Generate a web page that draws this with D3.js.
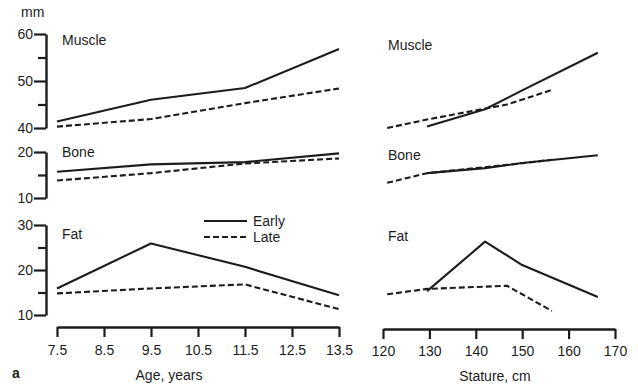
<!DOCTYPE html>
<html>
<head>
<meta charset="utf-8">
<script src="https://cdn.jsdelivr.net/npm/d3@7"></script>
<style>
  html, body { margin: 0; padding: 0; background: #fff; }
  svg { display: block; }
  text { font-family: "Liberation Sans", Arial, Helvetica, sans-serif; fill: #1c1c1c; }
</style>
</head>
<body>
<svg id="chart" width="638" height="386"></svg>
<script>
// Mean ages of the measured groups (years)
const ages = [7.5, 9.5, 11.5, 13.5];
// Mean statures of early and late maturers at those ages (cm)
const statureEarly = [129.5, 142.0, 150.0, 166.3];
const statureLate = [120.9, 129.5, 146.7, 156.4];

// Tissue widths (mm) by age
const muscleEarlyAge = [41.4, 46.0, 48.5, 56.8];
const muscleLateAge = [40.3, 41.9, 45.3, 48.4];
const boneEarlyAge = [15.7, 17.3, 17.8, 19.7];
const boneLateAge = [13.8, 15.4, 17.5, 18.6];
const fatEarlyAge = [15.9, 25.9, 20.7, 14.4];
const fatLateAge = [14.8, 15.9, 16.8, 11.3];

// Tissue widths (mm) by stature
const muscleEarlyStat = [40.3, 44.0, 48.0, 56.0];
const muscleLateStat = [40.0, 41.8, 45.0, 48.1];
const boneEarlyStat = [15.4, 16.5, 17.6, 19.3];
const boneLateStat = [13.3, 15.4, 17.2, 18.3];
const fatEarlyStat = [15.3, 26.3, 21.1, 14.0];
const fatLateStat = [14.6, 15.8, 16.5, 10.9];

// Axis ticks
const ageTicks = [7.5, 8.5, 9.5, 10.5, 11.5, 12.5, 13.5];
const statureTicks = [120, 130, 140, 150, 160, 170];
const panelNames = ["Muscle", "Bone", "Fat"];
const legendLabels = ["Early", "Late"];

const svg = d3.select("#chart");
const ink = "#1c1c1c";
const dash = "6,3";

const xAge = d3.scaleLinear().domain([7.5, 13.5]).range([57, 339]);
const xStat = d3.scaleLinear().domain([120, 170]).range([383, 615]);

const panels = [
  { name: panelNames[0], y: d3.scaleLinear().domain([40, 60]).range([128, 34]),
    major: [40, 50, 60], minor: [45, 55],
    ageE: muscleEarlyAge, ageL: muscleLateAge, statE: muscleEarlyStat, statL: muscleLateStat,
    labelY: 45, labelYR: 50 },
  { name: panelNames[1], y: d3.scaleLinear().domain([10, 20]).range([198, 152]),
    major: [10, 20], minor: [15],
    ageE: boneEarlyAge, ageL: boneLateAge, statE: boneEarlyStat, statL: boneLateStat,
    labelY: 157, labelYR: 160 },
  { name: panelNames[2], y: d3.scaleLinear().domain([10, 30]).range([315, 225]),
    major: [10, 20, 30], minor: [15, 25],
    ageE: fatEarlyAge, ageL: fatLateAge, statE: fatEarlyStat, statL: fatLateStat,
    labelY: 239, labelYR: 241 }
];

const axisX = 46;

function styleAxis(g) {
  g.selectAll("path.domain").attr("stroke", ink).attr("stroke-width", 2.4);
  g.selectAll(".tick line").attr("stroke", ink).attr("stroke-width", 2.2);
  g.selectAll(".tick text").attr("fill", ink).style("font-size", "14px")
    .style("font-family", "'Liberation Sans', Arial, sans-serif");
}

panels.forEach(p => {
  // major ticks with labels
  const gMaj = svg.append("g").attr("transform", `translate(${axisX},0)`)
    .call(d3.axisLeft(p.y).tickValues(p.major).tickSize(12).tickSizeOuter(0).tickPadding(1).tickFormat(d3.format("d")));
  styleAxis(gMaj);
  // minor ticks
  const gMin = svg.append("g").attr("transform", `translate(${axisX},0)`)
    .call(d3.axisLeft(p.y).tickValues(p.minor).tickSize(8).tickSizeOuter(0).tickFormat(""));
  styleAxis(gMin);
  gMin.select("path.domain").remove();

  // panel titles
  svg.append("text").attr("x", 62).attr("y", p.labelY).style("font-size", "14px").text(p.name);
  svg.append("text").attr("x", 388).attr("y", p.labelYR).style("font-size", "14px").text(p.name);

  const lineAgeE = d3.line().x((d, i) => xAge(ages[i])).y(d => p.y(d));
  const lineStatE = d3.line().x((d, i) => xStat(statureEarly[i])).y(d => p.y(d));
  const lineStatL = d3.line().x((d, i) => xStat(statureLate[i])).y(d => p.y(d));

  const series = [
    { d: p.ageL, gen: lineAgeE, dashed: true },
    { d: p.ageE, gen: lineAgeE, dashed: false },
    { d: p.statL, gen: lineStatL, dashed: true },
    { d: p.statE, gen: lineStatE, dashed: false }
  ];
  series.forEach(s => {
    svg.append("path").datum(s.d)
      .attr("d", s.gen)
      .attr("fill", "none")
      .attr("stroke", ink)
      .attr("stroke-width", 2.1)
      .attr("stroke-linejoin", "round")
      .attr("stroke-dasharray", s.dashed ? dash : null);
  });
});

// "mm" unit label
svg.append("text").attr("x", 21).attr("y", 17).style("font-size", "14px").text("mm");

// bottom axes
const gAge = svg.append("g").attr("transform", "translate(0,327)")
  .call(d3.axisBottom(xAge).tickValues(ageTicks).tickSize(10).tickSizeOuter(0).tickPadding(8).tickFormat(d3.format(".1f")));
styleAxis(gAge);
const gStat = svg.append("g").attr("transform", "translate(0,329)")
  .call(d3.axisBottom(xStat).tickValues(statureTicks).tickSize(10).tickSizeOuter(0).tickPadding(7).tickFormat(d3.format("d")));
styleAxis(gStat);

svg.append("text").attr("x", 169).attr("y", 380).attr("text-anchor", "middle")
  .style("font-size", "14px").text("Age, years");
svg.append("text").attr("x", 495).attr("y", 381).attr("text-anchor", "middle")
  .style("font-size", "14px").text("Stature, cm");
svg.append("text").attr("x", 12).attr("y", 378)
  .style("font-size", "14px").style("font-weight", "bold").text("a");

// legend
const legend = svg.append("g");
[0, 1].forEach(i => {
  const y = i === 0 ? 221 : 237;
  legend.append("line").attr("x1", 204).attr("x2", 247).attr("y1", y).attr("y2", y)
    .attr("stroke", ink).attr("stroke-width", 2)
    .attr("stroke-dasharray", i === 1 ? "6,3" : null);
  legend.append("text").attr("x", 253).attr("y", y + 5).style("font-size", "14px").text(legendLabels[i]);
});
</script>
</body>
</html>
